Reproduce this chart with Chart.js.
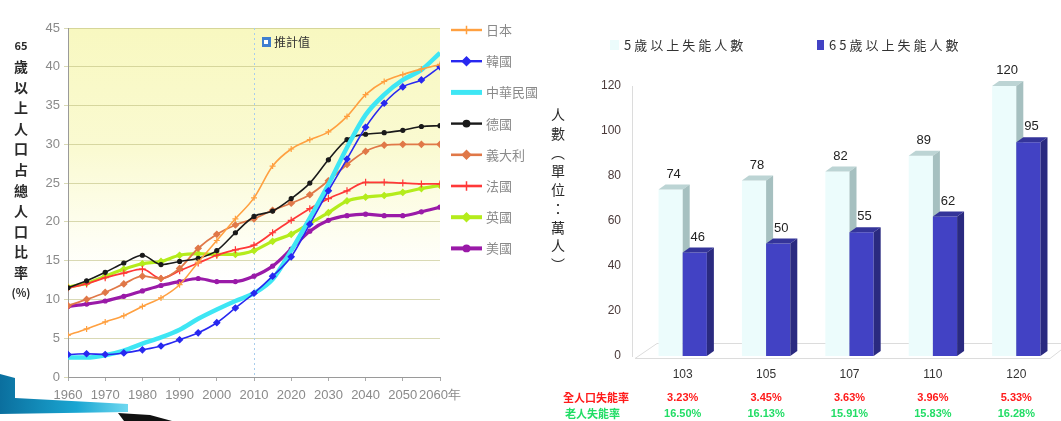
<!DOCTYPE html>
<html>
<head>
<meta charset="utf-8">
<script src="https://cdn.jsdelivr.net/npm/chart.js@4.4.1/dist/chart.umd.min.js"></script>
<style>
  html, body { margin: 0; padding: 0; background: #fff; overflow: hidden; }
  #wrap { position: relative; width: 1061px; height: 421px; }
  canvas { position: absolute; top: 0; }
  #deco { position: absolute; left: 0; top: 368px; }
</style>
</head>
<body>
<div id="wrap">
  <svg id="deco" width="180" height="53">
    <defs>
      <linearGradient id="teal" x1="0" y1="0" x2="1" y2="0">
        <stop offset="0" stop-color="#0b6f9e"/>
        <stop offset="0.6" stop-color="#1aa6d2"/>
        <stop offset="1" stop-color="#6fd8f0"/>
      </linearGradient>
    </defs>
    <polygon points="0,6 15,10 15,30 128,36 128,44 0,46" fill="url(#teal)"/>
    <polygon points="118,45 150,47 172,53 124,53" fill="#111"/>
  </svg>
  <canvas id="aging" width="540" height="421" style="left:0"></canvas>
  <canvas id="disabled" width="521" height="421" style="left:540px"></canvas>
</div>
<script>
// ---- Share of population aged 65+ (%), 1960-2060 ----
const years = [1960, 1965, 1970, 1975, 1980, 1985, 1990, 1995, 2000, 2005, 2010,
               2015, 2020, 2025, 2030, 2035, 2040, 2045, 2050, 2055, 2060];
const japan   = [5.4, 6.2, 7.1, 7.9, 9.1, 10.2, 11.9, 14.8, 17.6, 20.4, 23.1, 27.2, 29.4, 30.6, 31.6, 33.6, 36.4, 38.1, 39.0, 39.7, 40.3];
const korea   = [2.9, 3.0, 2.9, 3.1, 3.5, 4.0, 4.8, 5.7, 7.0, 8.9, 10.8, 13.0, 15.5, 19.7, 24.0, 28.1, 32.2, 35.3, 37.4, 38.3, 40.0];
const taiwan  = [2.5, 2.5, 2.8, 3.4, 4.3, 5.1, 6.1, 7.5, 8.7, 9.8, 10.8, 12.6, 16.3, 20.5, 24.8, 29.6, 33.8, 36.4, 38.3, 39.6, 41.8];
const germany = [11.5, 12.4, 13.5, 14.7, 15.7, 14.5, 14.9, 15.3, 16.3, 18.6, 20.7, 21.4, 23.0, 25.0, 28.0, 30.6, 31.3, 31.5, 31.8, 32.3, 32.4];
const italy   = [9.2, 10.0, 10.9, 12.0, 13.0, 12.7, 14.0, 16.6, 18.4, 19.6, 20.4, 21.5, 22.4, 23.5, 25.3, 27.4, 29.1, 29.9, 30.0, 30.0, 30.0];
const france  = [11.5, 12.0, 12.8, 13.4, 13.9, 12.7, 13.7, 14.7, 15.7, 16.4, 17.0, 18.6, 20.2, 21.7, 23.0, 24.0, 25.1, 25.1, 25.0, 24.9, 24.9];
const uk      = [11.6, 12.1, 13.0, 13.9, 14.6, 14.9, 15.7, 15.9, 15.8, 15.8, 16.3, 17.5, 18.4, 19.8, 21.2, 22.7, 23.2, 23.4, 23.8, 24.3, 24.7];
const usa     = [9.1, 9.4, 9.8, 10.4, 11.1, 11.8, 12.3, 12.7, 12.3, 12.3, 13.0, 14.3, 16.5, 18.8, 20.2, 20.8, 21.0, 20.8, 20.8, 21.3, 21.9];
const countryNames = ['日本', '韓國', '中華民國', '德國', '義大利', '法國', '英國', '美國'];
const projectionStart = 2010;

// ---- Disabled population (10k persons) ----
const surveyYears   = ['103', '105', '107', '110', '120'];
const allDisabled   = [74, 78, 82, 89, 120];
const elderDisabled = [46, 50, 55, 62, 95];
const allRate       = ['3.23%', '3.45%', '3.63%', '3.96%', '5.33%'];
const elderRate     = ['16.50%', '16.13%', '15.91%', '15.83%', '16.28%'];
const seriesNames   = ['5歲以上失能人數', '65歲以上失能人數'];

Chart.defaults.font.family = '"Liberation Sans", Arial, sans-serif';
const CJK = '"Noto Sans CJK TC", "Noto Sans CJK SC", sans-serif';

const pts = arr => years.map((y, i) => ({ x: y, y: arr[i] }));
function line(label, arr, color, width, style, radius) {
  return {
    label, data: pts(arr), borderColor: color, backgroundColor: color,
    borderWidth: width, tension: 0.35, cubicInterpolationMode: 'monotone',
    pointStyle: style || 'circle', pointRadius: radius || 0,
    pointBorderColor: color, pointBackgroundColor: color, pointBorderWidth: 1.2
  };
}

const agingDatasets = [
  line(countryNames[0], japan,   '#ffa040', 1.6, 'cross', 3),
  line(countryNames[1], korea,   '#2828f0', 1.6, 'rectRot', 3),
  line(countryNames[2], taiwan,  '#3ee6f4', 4.5, 'line', 0),
  line(countryNames[3], germany, '#1a1a1a', 1.6, 'circle', 2),
  line(countryNames[4], italy,   '#e07848', 1.8, 'rectRot', 3),
  line(countryNames[5], france,  '#ff3838', 1.8, 'cross', 3.5),
  line(countryNames[6], uk,      '#b4ec1c', 3.2, 'rectRot', 3),
  line(countryNames[7], usa,     '#9a1aa8', 3.2, 'circle', 2)
];

const agingDecor = {
  id: 'agingDecor',
  beforeDraw(chart) {
    const { ctx, chartArea: a } = chart;
    const g = ctx.createLinearGradient(0, a.top, 0, a.bottom);
    g.addColorStop(0, '#f8f8c0');
    g.addColorStop(0.35, '#fafad2');
    g.addColorStop(0.6, '#fefef2');
    g.addColorStop(0.72, '#ffffff');
    ctx.save();
    ctx.fillStyle = g;
    ctx.fillRect(a.left, a.top, a.right - a.left, a.bottom - a.top);
    ctx.restore();
  },
  beforeDatasetsDraw(chart) {
    const { ctx, chartArea: a, scales } = chart;
    const x = Math.round(scales.x.getPixelForValue(projectionStart)) + 0.5;
    ctx.save();
    ctx.strokeStyle = '#a8cdec';
    ctx.setLineDash([2, 3]);
    ctx.lineWidth = 1;
    ctx.beginPath(); ctx.moveTo(x, a.top); ctx.lineTo(x, a.bottom); ctx.stroke();
    ctx.restore();
  },
  afterDraw(chart) {
    const { ctx, chartArea: a, scales } = chart;
    ctx.save();
    // projection marker
    const px = scales.x.getPixelForValue(projectionStart) + 8;
    const py = a.top + 14;
    ctx.fillStyle = '#3f7fd0';
    ctx.fillRect(px, py - 5, 9, 10);
    ctx.fillStyle = '#fff';
    ctx.fillRect(px + 2, py - 2, 4, 4);
    ctx.fillStyle = '#333';
    ctx.font = '12px ' + CJK;
    ctx.textBaseline = 'middle';
    ctx.fillText('推計值', px + 12, py);

    // legend on the right
    chart.data.datasets.forEach((ds, i) => {
      const y = 30 + i * 31.2;
      ctx.strokeStyle = ds.borderColor;
      ctx.fillStyle = ds.borderColor;
      ctx.lineWidth = Math.min(ds.borderWidth + 0.8, 5);
      ctx.beginPath(); ctx.moveTo(451, y); ctx.lineTo(482, y); ctx.stroke();
      if (ds.pointRadius > 0) {
        ctx.lineWidth = 1.5;
        Chart.helpers.drawPoint(ctx, {
          pointStyle: ds.pointStyle, radius: ds.pointRadius + 1.2,
          rotation: 0, borderWidth: 1.5
        }, 466.5, y);
      }
      ctx.fillStyle = '#8a8a8a';
      ctx.font = '13px ' + CJK;
      ctx.textBaseline = 'middle';
      ctx.textAlign = 'left';
      ctx.fillText(ds.label, 486, y);
    });

    // stacked vertical axis title
    const title = ['65', '歲', '以', '上', '人', '口', '占', '總', '人', '口', '比', '率', '(%)'];
    ctx.fillStyle = '#2a2a2a';
    ctx.textAlign = 'center';
    title.forEach((t, i) => {
      ctx.font = (t.length > 1 ? '600 11px ' : '600 14px ') + CJK;
      ctx.fillText(t, 21, 46 + i * 20.6);
    });
    ctx.restore();
  }
};

new Chart(document.getElementById('aging'), {
  type: 'line',
  data: { datasets: agingDatasets },
  options: {
    responsive: false, animation: false,
    layout: { padding: { top: 28, right: 100, left: 0, bottom: 0 } },
    plugins: { legend: { display: false }, tooltip: { enabled: false } },
    scales: {
      x: {
        type: 'linear', min: 1960, max: 2060,
        afterFit: s => { s.height = 44; },
        grid: { drawOnChartArea: false, color: '#aaa', tickLength: 4 },
        border: { color: '#9a9a9a' },
        ticks: {
          stepSize: 10, autoSkip: false, maxRotation: 0, padding: 7,
          color: '#8a8a8a',
          font: { family: '"Liberation Sans Narrow", "Liberation Sans", sans-serif', size: 13 },
          callback: v => v === 2060 ? v + '年' : String(v)
        }
      },
      y: {
        min: 0, max: 45,
        afterFit: s => { s.width = 68; },
        grid: { color: 'rgba(185,185,120,0.55)', tickLength: 4 },
        border: { color: '#9a9a9a' },
        ticks: {
          stepSize: 5, padding: 4, color: '#8a8a8a',
          font: { family: '"Liberation Sans Narrow", "Liberation Sans", sans-serif', size: 13 }
        }
      }
    }
  },
  plugins: [agingDecor]
});

// ---- 3D-style bar chart: each bar gets a top face and a side face ----
const DX = 7, DY = -5;
const bar3d = {
  id: 'bar3d',
  beforeDatasetsDraw(chart) {
    const { ctx, chartArea: a } = chart;
    ctx.save();
    ctx.strokeStyle = '#dcdcdc';
    ctx.lineWidth = 1;
    ctx.beginPath();
    ctx.moveTo(a.left - 8.5, a.top); ctx.lineTo(a.left - 8.5, a.bottom + 1);
    ctx.moveTo(a.left - 6, a.bottom + 2.5); ctx.lineTo(a.right - 8, a.bottom + 2.5);
    ctx.moveTo(a.left - 6, a.bottom + 2.5); ctx.lineTo(a.left + 16, a.bottom - 12.5);
    ctx.lineTo(a.right + 3, a.bottom - 12.5);
    ctx.moveTo(a.right - 8, a.bottom + 2.5); ctx.lineTo(a.right + 3, a.bottom - 6);
    ctx.stroke();
    ctx.restore();
  },
  // bars are painted left to right in afterDatasetsDraw so the faces overlap correctly
  beforeDatasetDraw() { return false; },
  afterDatasetsDraw(chart) {
    const { ctx } = chart;
    ctx.save();
    chart.data.datasets.forEach((ds, di) => {
      chart.getDatasetMeta(di).data.forEach(el => {
        el.draw(ctx, chart.chartArea);
        const l = el.x - el.width / 2, r = el.x + el.width / 2, t = el.y, b = el.base;
        ctx.fillStyle = ds.faceTop;
        ctx.beginPath();
        ctx.moveTo(l, t); ctx.lineTo(l + DX, t + DY); ctx.lineTo(r + DX, t + DY); ctx.lineTo(r, t);
        ctx.closePath(); ctx.fill();
        ctx.fillStyle = ds.faceSide;
        ctx.beginPath();
        ctx.moveTo(r, t); ctx.lineTo(r + DX, t + DY); ctx.lineTo(r + DX, b + DY); ctx.lineTo(r, b);
        ctx.closePath(); ctx.fill();
      });
    });
    ctx.restore();
  },
  afterDraw(chart) {
    const { ctx, scales } = chart;
    ctx.save();
    // value labels
    ctx.fillStyle = '#222';
    ctx.font = '13px "Liberation Sans", Arial, sans-serif';
    ctx.textAlign = 'center';
    ctx.textBaseline = 'bottom';
    chart.data.datasets.forEach((ds, di) => {
      chart.getDatasetMeta(di).data.forEach((el, i) => {
        ctx.fillText(String(ds.data[i]), el.x + 3, el.y - 9);
      });
    });

    // rate rows under the axis
    ctx.textBaseline = 'middle';
    ctx.font = 'bold 11px ' + CJK;
    ctx.textAlign = 'left';
    ctx.fillStyle = '#ff1a1a';
    ctx.fillText('全人口失能率', 23, 398);
    ctx.fillStyle = '#22dd66';
    ctx.fillText('老人失能率', 25, 414);
    ctx.textAlign = 'center';
    ctx.font = 'bold 11px "Liberation Sans", Arial, sans-serif';
    surveyYears.forEach((_, i) => {
      const x = scales.x.getPixelForValue(i);
      ctx.fillStyle = '#ff1a1a';
      ctx.fillText(allRate[i], x, 398);
      ctx.fillStyle = '#22dd66';
      ctx.fillText(elderRate[i], x, 414);
    });

    // legend
    ctx.textAlign = 'left';
    ctx.font = '13px ' + CJK;
    ctx.letterSpacing = '3px';
    const ds = chart.data.datasets;
    ctx.fillStyle = ds[0].backgroundColor;
    ctx.fillRect(70, 40, 9, 10);
    ctx.fillStyle = '#333';
    ctx.fillText(seriesNames[0], 84, 45);
    ctx.fillStyle = ds[1].backgroundColor;
    ctx.fillRect(277, 40, 7, 10);
    ctx.fillStyle = '#333';
    ctx.fillText(seriesNames[1], 289, 45);
    ctx.letterSpacing = '0px';

    // stacked vertical axis title
    const title = ['人', '數', '︵', '單', '位', '：', '萬', '人', '︶'];
    ctx.fillStyle = '#2a2a2a';
    ctx.textAlign = 'center';
    ctx.font = '14px ' + CJK;
    title.forEach((t, i) => ctx.fillText(t, 18, 115 + i * 18.7));
    ctx.restore();
  }
};

new Chart(document.getElementById('disabled'), {
  type: 'bar',
  data: {
    labels: surveyYears,
    datasets: [
      { label: seriesNames[0], data: allDisabled, backgroundColor: '#ecfcfc',
        faceTop: '#bcd4d4', faceSide: '#a6c0c0',
        categoryPercentage: 0.58, barPercentage: 1.0 },
      { label: seriesNames[1], data: elderDisabled, backgroundColor: '#4242c4',
        faceTop: '#34349a', faceSide: '#2a2a80',
        categoryPercentage: 0.58, barPercentage: 1.0 }
    ]
  },
  options: {
    responsive: false, animation: false,
    layout: { padding: { top: 86, right: 3, left: 0, bottom: 0 } },
    plugins: { legend: { display: false }, tooltip: { enabled: false } },
    scales: {
      x: {
        afterFit: s => { s.height = 65; },
        grid: { display: false }, border: { display: false },
        ticks: { color: '#333', padding: 3, font: { size: 12 } }
      },
      y: {
        min: 0, max: 120,
        afterFit: s => { s.width = 101; },
        grid: { display: false }, border: { display: false },
        ticks: { stepSize: 20, color: '#4a3a3a', padding: 12, font: { size: 12 } }
      }
    }
  },
  plugins: [bar3d]
});
</script>
</body>
</html>
